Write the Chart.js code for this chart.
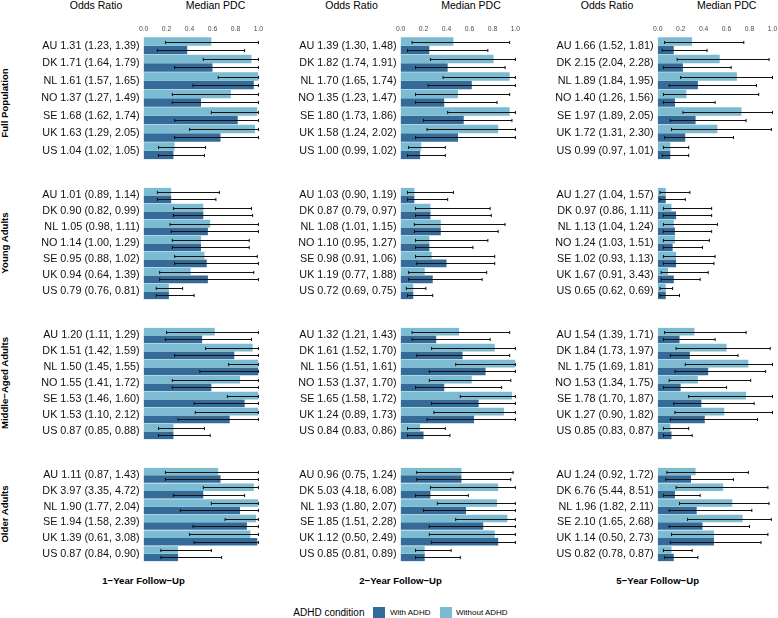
<!DOCTYPE html>
<html><head><meta charset="utf-8">
<script src="https://cdn.jsdelivr.net/npm/chart.js@4.4.1/dist/chart.umd.min.js"></script>
<style>
html,body{margin:0;padding:0;background:#fff;}
#wrap{position:relative;width:778px;height:618px;overflow:hidden;font-family:'Liberation Sans',Arial,sans-serif;color:#000;}
#wrap canvas{position:absolute;}
.t{position:absolute;white-space:nowrap;line-height:1;}
</style></head><body><div id="wrap"></div>
<script>
// ---------- categories & labels ----------
const countries7 = ['AU','DK','NL','NO','SE','UK','US'];
const countries6 = ['AU','DK','NL','SE','UK','US'];
const followUps = ['1\u2212Year Follow\u2212Up','2\u2212Year Follow\u2212Up','5\u2212Year Follow\u2212Up'];
const groups = ['Full Population','Young Adults','Middle\u2212Aged Adults','Older Adults'];
const seriesNames = ['With ADHD','Without ADHD'];
const xTicks = [0,0.2,0.4,0.6,0.8,1.0];

// ---------- 1-Year Follow-Up ----------
const y1FullOR = ['1.31 (1.23, 1.39)','1.71 (1.64, 1.79)','1.61 (1.57, 1.65)','1.37 (1.27, 1.49)','1.68 (1.62, 1.74)','1.63 (1.29, 2.05)','1.04 (1.02, 1.05)'];
const y1FullWithoutMed = [0.59,0.94,1.00,0.76,0.99,0.97,0.27];
const y1FullWithoutLo  = [0.19,0.52,0.65,0.25,0.59,0.40,0.13];
const y1FullWithoutHi  = [1.00,1.00,1.00,1.00,1.00,1.00,0.54];
const y1FullWithMed    = [0.38,0.60,0.96,0.50,0.82,0.67,0.26];
const y1FullWithLo     = [0.12,0.27,0.43,0.25,0.27,0.27,0.13];
const y1FullWithHi     = [0.88,1.00,1.00,1.00,1.00,1.00,0.53];

const y1YoungOR = ['1.01 (0.89, 1.14)','0.90 (0.82, 0.99)','1.05 (0.98, 1.11)','1.14 (1.00, 1.29)','0.95 (0.88, 1.02)','0.94 (0.64, 1.39)','0.79 (0.76, 0.81)'];
const y1YoungWithoutMed = [0.24,0.52,0.58,0.50,0.53,0.41,0.22];
const y1YoungWithoutLo  = [0.12,0.26,0.23,0.25,0.27,0.14,0.11];
const y1YoungWithoutHi  = [0.66,0.94,1.00,0.92,0.99,0.96,0.34];
const y1YoungWithMed    = [0.24,0.52,0.56,0.50,0.55,0.56,0.22];
const y1YoungWithLo     = [0.12,0.26,0.24,0.25,0.27,0.14,0.11];
const y1YoungWithHi     = [0.63,0.95,1.00,0.92,1.00,1.00,0.44];

const y1MiddleOR = ['1.20 (1.11, 1.29)','1.51 (1.42, 1.59)','1.50 (1.45, 1.55)','1.55 (1.41, 1.72)','1.53 (1.46, 1.60)','1.53 (1.10, 2.12)','0.87 (0.85, 0.88)'];
const y1MiddleWithoutMed = [0.62,0.95,1.00,0.84,1.00,1.00,0.26];
const y1MiddleWithoutLo  = [0.20,0.54,0.74,0.25,0.73,0.45,0.13];
const y1MiddleWithoutHi  = [1.00,1.00,1.00,1.00,1.00,1.00,0.53];
const y1MiddleWithMed    = [0.51,0.79,1.00,0.59,0.88,0.75,0.26];
const y1MiddleWithLo     = [0.19,0.27,0.49,0.25,0.44,0.30,0.13];
const y1MiddleWithHi     = [0.94,1.00,1.00,1.00,1.00,1.00,0.58];

const y1OlderOR = ['1.11 (0.87, 1.43)','3.97 (3.35, 4.72)','1.90 (1.77, 2.04)','1.94 (1.58, 2.39)','1.39 (0.61, 3.08)','0.87 (0.84, 0.90)'];
const y1OlderWithoutMed = [0.65,0.96,1.00,0.98,0.93,0.30];
const y1OlderWithoutLo  = [0.19,0.52,0.59,0.71,0.40,0.15];
const y1OlderWithoutHi  = [1.00,1.00,1.00,1.00,1.00,0.59];
const y1OlderWithMed    = [0.67,0.52,0.84,0.90,0.99,0.30];
const y1OlderWithLo     = [0.19,0.26,0.32,0.43,0.44,0.15];
const y1OlderWithHi     = [1.00,0.88,1.00,1.00,1.00,0.68];

// ---------- 2-Year Follow-Up ----------
const y2FullOR = ['1.39 (1.30, 1.48)','1.82 (1.74, 1.91)','1.70 (1.65, 1.74)','1.35 (1.23, 1.47)','1.80 (1.73, 1.86)','1.58 (1.24, 2.02)','1.00 (0.99, 1.02)'];
const y2FullWithoutMed = [0.46,0.81,0.95,0.50,0.95,0.85,0.18];
const y2FullWithoutLo  = [0.10,0.26,0.37,0.13,0.41,0.23,0.07];
const y2FullWithoutHi  = [0.95,1.00,1.00,0.95,1.00,1.00,0.39];
const y2FullWithMed    = [0.25,0.41,0.62,0.38,0.55,0.50,0.17];
const y2FullWithLo     = [0.06,0.13,0.24,0.13,0.20,0.13,0.06];
const y2FullWithHi     = [0.76,0.91,1.00,0.84,0.97,1.00,0.39];

const y2YoungOR = ['1.03 (0.90, 1.19)','0.87 (0.79, 0.97)','1.08 (1.01, 1.15)','1.10 (0.95, 1.27)','0.98 (0.91, 1.06)','1.19 (0.77, 1.88)','0.72 (0.69, 0.75)'];
const y2YoungWithoutMed = [0.12,0.26,0.35,0.25,0.27,0.21,0.11];
const y2YoungWithoutLo  = [0.06,0.13,0.12,0.13,0.13,0.07,0.05];
const y2YoungWithoutHi  = [0.46,0.78,0.91,0.76,0.82,0.75,0.22];
const y2YoungWithMed    = [0.12,0.26,0.35,0.25,0.40,0.28,0.11];
const y2YoungWithLo     = [0.06,0.13,0.12,0.13,0.14,0.07,0.06];
const y2YoungWithHi     = [0.41,0.79,0.85,0.63,0.82,0.71,0.28];

const y2MiddleOR = ['1.32 (1.21, 1.43)','1.61 (1.52, 1.70)','1.56 (1.51, 1.61)','1.53 (1.37, 1.70)','1.65 (1.58, 1.72)','1.24 (0.89, 1.73)','0.84 (0.83, 0.86)'];
const y2MiddleWithoutMed = [0.51,0.82,1.00,0.62,0.97,0.90,0.17];
const y2MiddleWithoutLo  = [0.10,0.27,0.48,0.25,0.52,0.29,0.06];
const y2MiddleWithoutHi  = [0.95,1.00,1.00,0.96,1.00,1.00,0.39];
const y2MiddleWithMed    = [0.31,0.54,0.74,0.38,0.68,0.64,0.20];
const y2MiddleWithLo     = [0.10,0.14,0.25,0.13,0.27,0.23,0.06];
const y2MiddleWithHi     = [0.78,0.95,1.00,0.88,1.00,1.00,0.43];

const y2OlderOR = ['0.96 (0.75, 1.24)','5.03 (4.18, 6.08)','1.93 (1.80, 2.07)','1.85 (1.51, 2.28)','1.12 (0.50, 2.49)','0.85 (0.81, 0.89)'];
const y2OlderWithoutMed = [0.53,0.85,0.84,0.93,0.82,0.21];
const y2OlderWithoutLo  = [0.14,0.26,0.32,0.48,0.25,0.13];
const y2OlderWithoutHi  = [0.98,1.00,1.00,1.00,1.00,0.44];
const y2OlderWithMed    = [0.53,0.26,0.57,0.72,0.85,0.21];
const y2OlderWithLo     = [0.14,0.13,0.20,0.25,0.27,0.13];
const y2OlderWithHi     = [0.96,0.59,1.00,1.00,1.00,0.52];

// ---------- 5-Year Follow-Up ----------
const y5FullOR = ['1.66 (1.52, 1.81)','2.15 (2.04, 2.28)','1.89 (1.84, 1.95)','1.40 (1.26, 1.56)','1.97 (1.89, 2.05)','1.72 (1.31, 2.30)','0.99 (0.97, 1.01)'];
const y5FullWithoutMed = [0.30,0.54,0.69,0.25,0.73,0.52,0.11];
const y5FullWithoutLo  = [0.06,0.17,0.20,0.05,0.22,0.12,0.05];
const y5FullWithoutHi  = [0.75,0.97,1.00,0.88,1.00,0.99,0.27];
const y5FullWithMed    = [0.14,0.22,0.35,0.15,0.33,0.24,0.11];
const y5FullWithLo     = [0.04,0.05,0.10,0.05,0.11,0.06,0.04];
const y5FullWithHi     = [0.43,0.64,0.86,0.50,0.77,0.66,0.27];

const y5YoungOR = ['1.27 (1.04, 1.57)','0.97 (0.86, 1.11)','1.13 (1.04, 1.24)','1.24 (1.03, 1.51)','1.02 (0.93, 1.13)','1.67 (0.91, 3.43)','0.65 (0.62, 0.69)'];
const y5YoungWithoutMed = [0.07,0.12,0.14,0.15,0.16,0.09,0.07];
const y5YoungWithoutLo  = [0.02,0.05,0.05,0.05,0.05,0.03,0.02];
const y5YoungWithoutHi  = [0.28,0.47,0.52,0.45,0.50,0.44,0.13];
const y5YoungWithMed    = [0.07,0.16,0.15,0.13,0.16,0.14,0.07];
const y5YoungWithLo     = [0.02,0.05,0.05,0.05,0.05,0.03,0.02];
const y5YoungWithHi     = [0.24,0.47,0.47,0.39,0.49,0.37,0.19];

const y5MiddleOR = ['1.54 (1.39, 1.71)','1.84 (1.73, 1.97)','1.75 (1.69, 1.81)','1.53 (1.34, 1.75)','1.78 (1.70, 1.87)','1.27 (0.90, 1.82)','0.85 (0.83, 0.87)'];
const y5MiddleWithoutMed = [0.32,0.60,0.79,0.35,0.77,0.58,0.11];
const y5MiddleWithoutLo  = [0.06,0.16,0.24,0.10,0.27,0.15,0.05];
const y5MiddleWithoutHi  = [0.77,0.98,1.00,0.81,1.00,1.00,0.27];
const y5MiddleWithMed    = [0.19,0.28,0.44,0.20,0.38,0.41,0.12];
const y5MiddleWithLo     = [0.05,0.11,0.15,0.05,0.14,0.11,0.05];
const y5MiddleWithHi     = [0.50,0.70,0.94,0.60,0.84,0.87,0.30];

const y5OlderOR = ['1.24 (0.92, 1.72)','6.76 (5.44, 8.51)','1.96 (1.82, 2.11)','2.10 (1.65, 2.68)','1.14 (0.50, 2.73)','0.82 (0.78, 0.87)'];
const y5OlderWithoutMed = [0.33,0.57,0.65,0.74,0.49,0.12];
const y5OlderWithoutLo  = [0.08,0.16,0.19,0.26,0.12,0.05];
const y5OlderWithoutHi  = [0.79,0.96,0.97,0.99,0.96,0.30];
const y5OlderWithMed    = [0.29,0.15,0.34,0.39,0.49,0.14];
const y5OlderWithLo     = [0.07,0.05,0.10,0.10,0.11,0.06];
const y5OlderWithHi     = [0.66,0.37,0.82,0.80,0.90,0.35];

// ---------- panel table built from the arrays ----------
const panels = [
  [0,0,countries7,y1FullOR,y1FullWithoutMed,y1FullWithoutLo,y1FullWithoutHi,y1FullWithMed,y1FullWithLo,y1FullWithHi],
  [0,1,countries7,y1YoungOR,y1YoungWithoutMed,y1YoungWithoutLo,y1YoungWithoutHi,y1YoungWithMed,y1YoungWithLo,y1YoungWithHi],
  [0,2,countries7,y1MiddleOR,y1MiddleWithoutMed,y1MiddleWithoutLo,y1MiddleWithoutHi,y1MiddleWithMed,y1MiddleWithLo,y1MiddleWithHi],
  [0,3,countries6,y1OlderOR,y1OlderWithoutMed,y1OlderWithoutLo,y1OlderWithoutHi,y1OlderWithMed,y1OlderWithLo,y1OlderWithHi],
  [1,0,countries7,y2FullOR,y2FullWithoutMed,y2FullWithoutLo,y2FullWithoutHi,y2FullWithMed,y2FullWithLo,y2FullWithHi],
  [1,1,countries7,y2YoungOR,y2YoungWithoutMed,y2YoungWithoutLo,y2YoungWithoutHi,y2YoungWithMed,y2YoungWithLo,y2YoungWithHi],
  [1,2,countries7,y2MiddleOR,y2MiddleWithoutMed,y2MiddleWithoutLo,y2MiddleWithoutHi,y2MiddleWithMed,y2MiddleWithLo,y2MiddleWithHi],
  [1,3,countries6,y2OlderOR,y2OlderWithoutMed,y2OlderWithoutLo,y2OlderWithoutHi,y2OlderWithMed,y2OlderWithLo,y2OlderWithHi],
  [2,0,countries7,y5FullOR,y5FullWithoutMed,y5FullWithoutLo,y5FullWithoutHi,y5FullWithMed,y5FullWithLo,y5FullWithHi],
  [2,1,countries7,y5YoungOR,y5YoungWithoutMed,y5YoungWithoutLo,y5YoungWithoutHi,y5YoungWithMed,y5YoungWithLo,y5YoungWithHi],
  [2,2,countries7,y5MiddleOR,y5MiddleWithoutMed,y5MiddleWithoutLo,y5MiddleWithoutHi,y5MiddleWithMed,y5MiddleWithLo,y5MiddleWithHi],
  [2,3,countries6,y5OlderOR,y5OlderWithoutMed,y5OlderWithoutLo,y5OlderWithoutHi,y5OlderWithMed,y5OlderWithLo,y5OlderWithHi]
];

// ---------- layout & style ----------
const COLOR_WITH = '#346b98';
const COLOR_WITHOUT = '#7bbcd2';
const colLeft = [143.6, 400.6, 657.7];
const rowTop = [37, 177.2, 317.4, 457.6];
const CAT_H = 18.8;
const PW = 114.8;
const FONT = "'Liberation Sans', Arial, sans-serif";
Chart.defaults.font.family = FONT;

const wrap = document.getElementById('wrap');

const errorBarPlugin = {
  id: 'errorBars',
  afterDatasetsDraw(chart) {
    const ctx = chart.ctx, xs = chart.scales.x;
    ctx.save();
    ctx.strokeStyle = '#111';
    ctx.lineWidth = 1;
    chart.data.datasets.forEach((ds, di) => {
      const meta = chart.getDatasetMeta(di);
      meta.data.forEach((bar, i) => {
        const y = Math.round(bar.y) + 0.5;
        const x1 = xs.getPixelForValue(ds.errLo[i]);
        const x2 = xs.getPixelForValue(ds.errHi[i]);
        ctx.beginPath();
        ctx.moveTo(x1, y); ctx.lineTo(x2, y);
        ctx.moveTo(x1, y - 1.6); ctx.lineTo(x1, y + 1.6);
        ctx.moveTo(x2, y - 1.6); ctx.lineTo(x2, y + 1.6);
        ctx.stroke();
      });
    });
    ctx.restore();
  }
};

panels.forEach(p => {
  const [col,row,countries,orLabels,woMed,woLo,woHi,wMed,wLo,wHi] = p;
  const L = colLeft[col], T = rowTop[row];
  const plotH = countries.length * CAT_H;
  const top = row === 0;
  const cLeft = Math.floor(L - 112);
  const labelW = L - cLeft;
  const cTop = top ? Math.floor(T) - 22 : Math.floor(T);
  const axisH = top ? T - cTop : 0;
  const padTop = top ? 0 : T - cTop;
  const cH = Math.ceil(T + plotH) - cTop + 1;
  const padBottom = cH - (T + plotH - cTop);
  const cW = Math.ceil(labelW + PW + 12);
  const padRight = cW - labelW - PW;

  const cv = document.createElement('canvas');
  cv.width = cW; cv.height = cH;
  cv.style.left = cLeft + 'px'; cv.style.top = cTop + 'px';
  cv.style.width = cW + 'px'; cv.style.height = cH + 'px';
  wrap.appendChild(cv);

  new Chart(cv.getContext('2d'), {
    type: 'bar',
    data: {
      labels: countries.map((c, i) => c + ' ' + orLabels[i]),
      datasets: [
        { label: seriesNames[1], data: woMed, errLo: woLo, errHi: woHi, backgroundColor: COLOR_WITHOUT, borderWidth: 0 },
        { label: seriesNames[0], data: wMed, errLo: wLo, errHi: wHi, backgroundColor: COLOR_WITH, borderWidth: 0 }
      ]
    },
    options: {
      indexAxis: 'y',
      responsive: false,
      animation: false,
      devicePixelRatio: 1,
      categoryPercentage: 0.96,
      barPercentage: 1.0,
      layout: { padding: { left: 0, right: padRight, top: padTop, bottom: padBottom } },
      plugins: { legend: { display: false }, tooltip: { enabled: false }, title: { display: false } },
      scales: {
        x: {
          type: 'linear', position: 'top', min: 0, max: 1,
          display: top,
          grid: { display: false, drawTicks: false },
          border: { display: false },
          afterFit: s => { s.height = axisH; },
          afterBuildTicks: s => { s.ticks = xTicks.map(v => ({ value: v })); },
          ticks: {
            autoSkip: false, maxRotation: 0, padding: 4,
            color: '#4d4d4d', font: { size: 6.8, family: FONT },
            callback: v => Number(v).toFixed(1)
          }
        },
        y: {
          type: 'category', position: 'left',
          grid: { display: false, drawTicks: false },
          border: { display: false },
          afterFit: s => { s.width = labelW; },
          ticks: { autoSkip: false, padding: 4, color: '#111', font: { size: 10.8, family: FONT } }
        }
      }
    },
    plugins: [errorBarPlugin]
  });
});

// ---------- text ----------
function addText(txt, x, cy, size, opt) {
  opt = opt || {};
  const d = document.createElement('div');
  d.className = 't';
  d.textContent = txt;
  d.style.fontSize = size + 'px';
  if (opt.bold) d.style.fontWeight = 'bold';
  d.style.color = opt.color || '#000';
  if (opt.rotate) {
    d.style.left = x + 'px'; d.style.top = cy + 'px';
    d.style.transform = 'translate(-50%,-50%) rotate(-90deg)';
  } else {
    d.style.top = (cy - size / 2) + 'px';
    d.style.left = x + 'px';
    if (opt.center) d.style.transform = 'translateX(-50%)';
  }
  wrap.appendChild(d);
  return d;
}
const orHeaderX = [96, 351.5, 607];
const pdcHeaderX = [215.5, 471, 726.7];
for (let c = 0; c < 3; c++) {
  addText('Odds Ratio', orHeaderX[c], 5, 10.5, { center: true });
  addText('Median PDC', pdcHeaderX[c], 5, 10.5, { center: true });
  addText(followUps[c], colLeft[c], 580.8, 9.6, { center: true, bold: true });
}
const rowCenters = rowTop.map((t, i) => t + (i === 3 ? 6 : 7) * CAT_H / 2);
groups.forEach((g, i) => addText(g, 5.2, rowCenters[i], 9.6, { bold: true, rotate: true }));

// legend
addText('ADHD condition', 293.3, 612.6, 10);
function legendBox(x, color) {
  const b = document.createElement('div');
  b.style.position = 'absolute'; b.style.left = x + 'px'; b.style.top = '607px';
  b.style.width = '11.5px'; b.style.height = '11.5px'; b.style.background = color;
  wrap.appendChild(b);
}
legendBox(373.2, COLOR_WITH);
addText(seriesNames[0], 390, 612.6, 8);
legendBox(440, COLOR_WITHOUT);
addText(seriesNames[1], 456, 612.6, 8);
</script></body></html>
